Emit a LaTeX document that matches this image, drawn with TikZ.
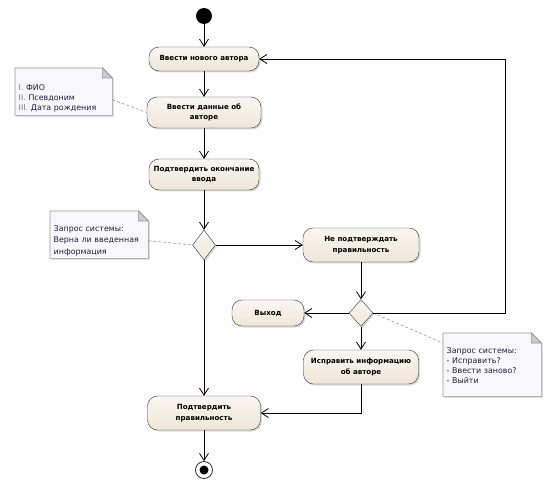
\documentclass[tikz,border=0pt]{standalone}
\usepackage{fontspec}
\setmainfont{DejaVu Sans}
\usepackage{tikz}
\usetikzlibrary{arrows.meta,shapes.geometric,calc,shadows,backgrounds}
\definecolor{act-fill}{RGB}{238,230,216}
\definecolor{act-top}{RGB}{250,247,241}
\definecolor{note-fill}{RGB}{248,248,252}
\definecolor{note-line}{RGB}{150,150,150}
\definecolor{note-text}{RGB}{30,30,70}
\definecolor{note-num}{RGB}{110,130,150}

\begin{document}
\begin{tikzpicture}[x=1pt, y=-1pt, >={Straight Barb[length=7pt,width=9pt]},
    actbox/.style={rectangle, draw=black!80, rounded corners=10pt, top color=act-top, bottom color=act-fill, align=center, inner sep=2pt, font=\fontsize{7.1}{10.5}\selectfont\bfseries, drop shadow={shadow xshift=1.5pt, shadow yshift=-1.5pt, opacity=0.3}},
    decision/.style={diamond, draw=black!80, top color=act-top, bottom color=act-fill, inner sep=0pt, minimum width=23pt, minimum height=30pt, drop shadow={shadow xshift=1.5pt, shadow yshift=-1.5pt, opacity=0.3}},
    note/.style={rectangle, anchor=north west, align=left, inner xsep=3.5pt, inner ysep=0pt, text=note-text, font=\fontsize{7.9}{10}\selectfont},
    flow/.style={->, line width=0.8pt},
    link/.style={densely dashed, note-line, line width=0.6pt}]

    \useasboundingbox (0,0) rectangle (547,484);

    % Initial and final nodes
    \node[circle, fill=black, minimum size=16pt, inner sep=0pt] (start) at (204,16) {};
    \node[circle, draw=black!80, fill=white, minimum size=17pt, inner sep=0pt, line width=0.8pt,
        path picture={\fill[black] (path picture bounding box.center) circle (4.5pt);}] (fin) at (204,470) {};

    % Actions
    \node[actbox, minimum width=110pt, minimum height=24pt] (nov) at (204,59) {Ввести нового автора};
    \node[actbox, minimum width=114pt, minimum height=31pt] (dan) at (204,112.5) {Ввести данные об\\авторе};
    \node[actbox, minimum width=110pt, minimum height=31pt] (okon) at (204,174.5) {Подтвердить окончание\\ввода};
    \node[actbox, minimum width=116pt, minimum height=34pt] (ne) at (361,245) {Не подтверждать\\правильность};
    \node[actbox, minimum width=72pt, minimum height=26pt] (vyh) at (268,313) {Выход};
    \node[actbox, minimum width=115pt, minimum height=34pt] (isp) at (361,367) {Исправить информацию\\об авторе};
    \node[actbox, minimum width=113pt, minimum height=34pt] (prav) at (204,413) {Подтвердить\\правильность};

    % Decisions
    \node[decision] (d1) at (204,245) {};
    \node[decision, minimum width=24pt, minimum height=27pt] (d2) at (361,313) {};

    % Notes
    \node[note, text width=90pt, minimum width=97pt, text height=22pt, text depth=25pt] (n1) at (15,68)
        {\textcolor{note-num}{I.} ФИО\\\textcolor{note-num}{II.} Псевдоним\\\textcolor{note-num}{III.} Дата рождения};
    \node[note, text width=91pt, minimum width=98pt, text height=20pt, text depth=27pt,
        font=\fontsize{7.9}{11.5}\selectfont] (n2) at (50,211)
        {Запрос системы:\\Верна ли введенная\\информация};
    \node[note, text width=91pt, minimum width=98pt, text height=20.5pt, text depth=42.5pt] (n3) at (443,333)
        {Запрос системы:\\- Исправить?\\- Ввести заново?\\- Выйти};

    \begin{scope}[on background layer]
        \foreach \n in {n1,n2,n3} {
            \filldraw[draw=note-line, fill=note-fill, line width=0.6pt, drop shadow={shadow xshift=1.5pt, shadow yshift=-1.5pt, opacity=0.25}]
                (\n.north west) -- ($(\n.north east)+(-10,0)$) -- ($(\n.north east)+(0,10)$)
                -- (\n.south east) -- (\n.south west) -- cycle;
            \filldraw[draw=note-line, fill=black!20, line width=0.6pt]
                ($(\n.north east)+(-10,0)$) -- ($(\n.north east)+(-10,10)$) -- ($(\n.north east)+(0,10)$) -- cycle;
        }
    \end{scope}

    % Note links
    \draw[link] ([yshift=-8pt]n1.east) -- (dan.west);
    \draw[link] ([yshift=-6pt]n2.east) -- (d1.west);
    \draw[link] (d2.east) -- ([yshift=-10pt]n3.north west);

    % Flows
    \coordinate (back) at (505,59);
    \draw[flow] (start) -- (nov);
    \draw[flow] (nov) -- (dan);
    \draw[flow] (dan) -- (okon);
    \draw[flow] (okon) -- (d1);
    \draw[flow] (d1) -- (prav);
    \draw[flow] (d1) -- (ne);
    \draw[flow] (ne) -- (d2);
    \draw[flow] (d2) -- (vyh);
    \draw[flow] (d2) -- (isp);
    \draw[flow] (d2.east) -| (back) -- (nov.east);
    \draw[flow] (isp.south) |- (prav.east);
    \draw[flow] (prav) -- (fin);
\end{tikzpicture}
\end{document}
